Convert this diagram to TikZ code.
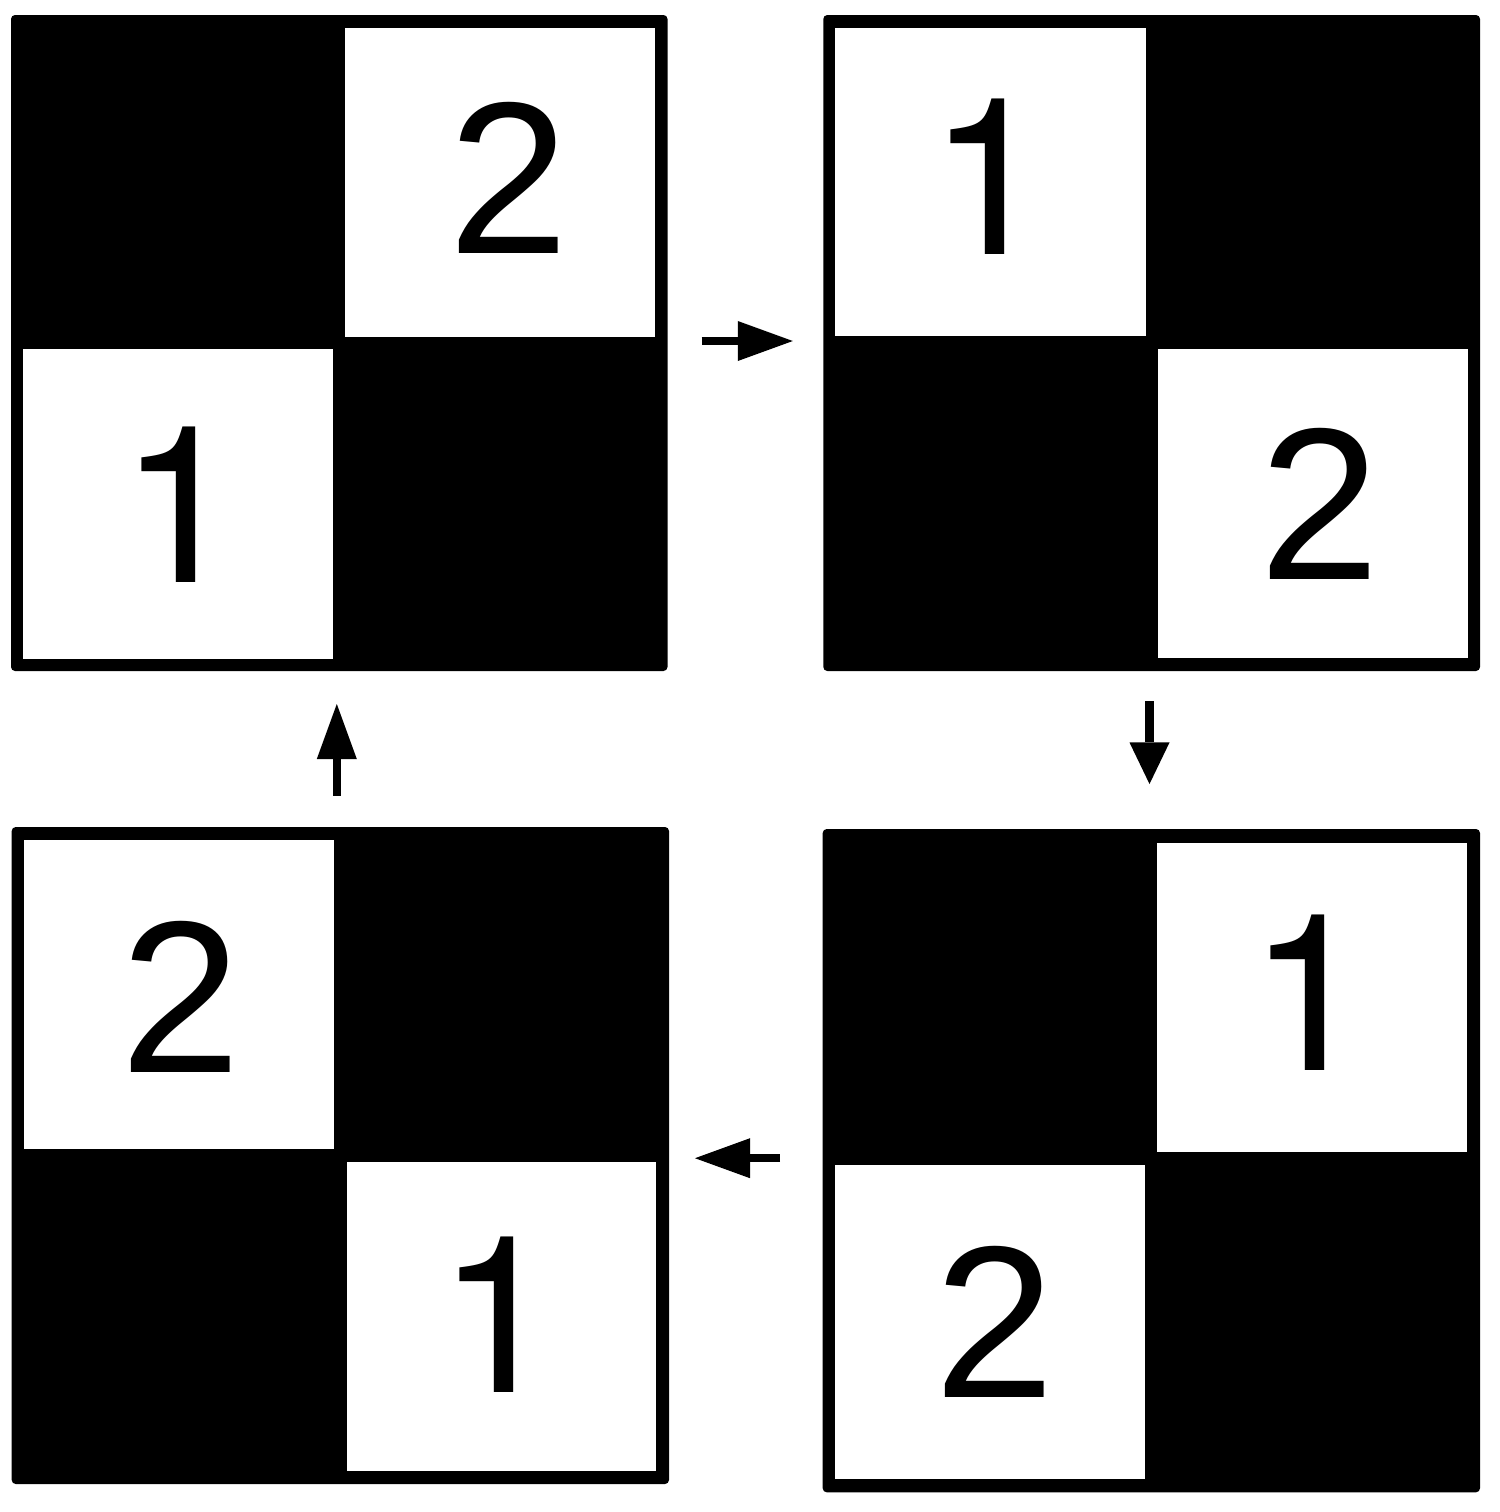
\documentclass[tikz,border=0pt]{standalone}
\usepackage{fontspec}
\setmainfont{Liberation Sans}
\newfontfamily\herosfont{TeX Gyre Heros}
\usetikzlibrary{arrows.meta}
\begin{document}
\begin{tikzpicture}[x=0.01cm,y=-0.01cm,
  panel/.style={fill=black, rounded corners=0.4mm},
  cell/.style={fill=white},
  two/.style={anchor=base, inner sep=0pt, font=\fontsize{61.6}{70}\selectfont},
  one/.style={anchor=base, inner sep=0pt, font=\herosfont\fontsize{62.4}{70}\selectfont},
  flow/.style={line width=0.085cm, -{Triangle[length=5.5mm,width=4mm,line width=0pt]}},
  flowshort/.style={line width=0.088cm, -{Triangle[length=4.15mm,width=4mm,line width=0pt]}}]
\fill[white] (0,0) rectangle (1500,1512);
\useasboundingbox (0,0) rectangle (1500,1512);

% top-left panel
\path[panel] (11,15) rectangle (667.5,671);
\path[cell] (345,28) rectangle (655,336.7);
\path[cell] (23,349) rectangle (332.7,658.5);
\node[two] (tl2) at (508.7,253.3) {2};
\node[one] (tl1) at (181,582.7) {1};

% top-right panel
\path[panel] (823.3,15) rectangle (1480,671);
\path[cell] (835,28) rectangle (1145.7,336);
\path[cell] (1158.3,348.7) rectangle (1467.7,658);
\node[one] (tr1) at (989.5,254.3) {1};
\node[two] (tr2) at (1319.8,579.3) {2};

% bottom-right panel
\path[panel] (822.7,829) rectangle (1480,1492.3);
\path[cell] (1157.3,842.7) rectangle (1466.7,1151.5);
\path[cell] (835.3,1165) rectangle (1144.7,1479.3);
\node[one] (br1) at (1309.2,1070.5) {1};
\node[two] (br2) at (994.5,1397.3) {2};

% bottom-left panel
\path[panel] (11.7,827) rectangle (669,1484);
\path[cell] (24,840) rectangle (333.5,1148.5);
\path[cell] (346.7,1161.7) rectangle (656,1471);
\node[two] (bl2) at (180.5,1072) {2};
\node[one] (bl1) at (498,1392) {1};

% arrows
\coordinate (a1s) at (701.6,341);
\coordinate (a1e) at (792.8,341);
\coordinate (a2s) at (1149.5,701);
\coordinate (a2e) at (1149.5,784);
\coordinate (a3s) at (780,1158.2);
\coordinate (a3e) at (695,1158.2);
\coordinate (a4s) at (336.8,795.6);
\coordinate (a4e) at (336.8,704);
\draw[flow] (a1s) -- (a1e);
\draw[flowshort] (a2s) -- (a2e);
\draw[flow] (a3s) -- (a3e);
\draw[flow] (a4s) -- (a4e);
\end{tikzpicture}
\end{document}
